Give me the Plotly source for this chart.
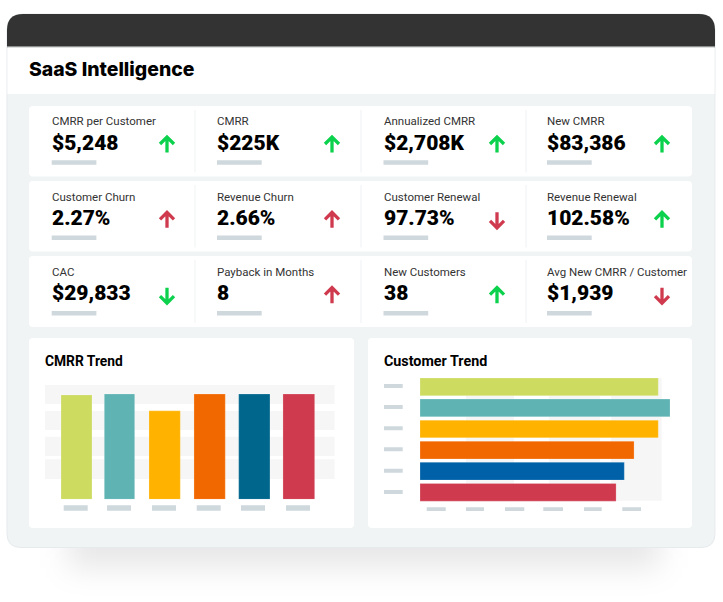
import base64
import plotly.graph_objects as go

W, H = 723, 602

# ---- data ----
kpi_labels = ["CMRR per Customer", "CMRR", "Annualized CMRR", "New CMRR",
              "Customer Churn", "Revenue Churn", "Customer Renewal", "Revenue Renewal",
              "CAC", "Payback in Months", "New Customers", "Avg New CMRR / Customer"]
kpi_values = ["$5,248", "$225K", "$2,708K", "$83,386",
              "2.27%", "2.66%", "97.73%", "102.58%",
              "$29,833", "8", "38", "$1,939"]
kpi_up = [True, True, True, True, True, True, False, True, False, True, True, False]
kpi_good = [True, True, True, True, False, False, False, True, True, False, True, False]

cmrr_periods = ["P1", "P2", "P3", "P4", "P5", "P6"]
cmrr_values = [223, 225, 189, 225, 225, 225]
customer_periods = ["P1", "P2", "P3", "P4", "P5", "P6"]
customer_values = [61.0, 64.0, 61.0, 54.8, 52.3, 50.2]

# ---- style ----
LIME, TEAL, AMBER, ORANGE, NAVY, RED, BLUE = "#CDDC60", "#5FB3B3", "#FFB300", "#F26800", "#00668C", "#CF3A4E", "#0061A8"
GREEN = "#0BD14C"
BG = "#F0F4F5"
PH = "#CFD8DC"
BAND = "#F6F6F6"
cmrr_colors = [LIME, TEAL, AMBER, ORANGE, NAVY, RED]
customer_colors = [LIME, TEAL, AMBER, ORANGE, BLUE, RED]
edge = "rgba(255,255,255,0.35)"
STEP = 44.46
cmrr_offset = [o / STEP for o in (-15.5, -16.66, -16.42, -15.88, -15.64, -15.8)]
cmrr_width = [w / STEP for w in (31, 30.4, 31.3, 31.3, 31.3, 31.7)]


def px(x):
    return x / W


def py(y):
    return 1 - y / H


def rrect(x0, y0, x1, y1, tl=0, tr=0, br=0, bl=0):
    def p(x, y):
        return f"{px(x):.5f},{py(y):.5f}"
    d = f"M{p(x0 + tl, y0)} L{p(x1 - tr, y0)} Q{p(x1, y0)} {p(x1, y0 + tr)} "
    d += f"L{p(x1, y1 - br)} Q{p(x1, y1)} {p(x1 - br, y1)} "
    d += f"L{p(x0 + bl, y1)} Q{p(x0, y1)} {p(x0, y1 - bl)} "
    d += f"L{p(x0, y0 + tl)} Q{p(x0, y0)} {p(x0 + tl, y0)} Z"
    return d


shapes = []


def box(x0, y0, x1, y1, fill, r=0, line=None, top=None, bottom=None):
    t = r if top is None else top
    b = r if bottom is None else bottom
    shapes.append(dict(type="path", xref="paper", yref="paper", layer="below",
                       path=rrect(x0, y0, x1, y1, t, t, b, b), fillcolor=fill,
                       line=dict(width=1 if line else 0, color=line or fill)))


# outer card
box(7, 14, 715, 547.5, BG, top=16, bottom=14, line="#E6EAEC")
box(7, 14, 715, 46.5, "#333333", top=16, bottom=0)
box(7, 46.5, 715, 47.5, "#8A8A8A")
box(7.5, 47.5, 714.5, 94, "#FFFFFF")

# KPI rows
rows_top = [106, 181, 256]
rows_bot = [176.5, 251.5, 327]
col_text = [51.7, 217, 383.5, 547]
col_arrow = [167, 332, 497, 662]
separators = [195, 361, 526]
row_off = [0, 75.3, 150.7]
for t, b in zip(rows_top, rows_bot):
    box(29, t, 692, b, "#FFFFFF", r=4)
    for s in separators:
        box(s - 0.5, t + 4, s + 0.5, b - 4, "#F0F2F3")

annotations = []
TEXT_SHIFT = -2


def label(x, y, text, size, family, color="#000000", weight=400):
    annotations.append(dict(xref="paper", yref="paper", x=px(x + TEXT_SHIFT), y=py(y), text=text,
                            showarrow=False, xanchor="left", yanchor="middle",
                            font=dict(size=size, family=family, color=color, weight=weight)))


label(28.5, 69, "SaaS Intelligence", 19.4, "Inter", weight=800)

for i, (lab, val, up, good) in enumerate(zip(kpi_labels, kpi_values, kpi_up, kpi_good)):
    r, c = divmod(i, 4)
    dy = row_off[r]
    x = col_text[c]
    label(x, 121.5 + dy, lab, 11.5, "Roboto", color="#333333")
    label(x, 142.5 + dy, val, 21, "Roboto", weight=900)
    box(x, 160.3 + dy, x + 44.7, 164.8 + dy, PH)
    ax = col_arrow[c]
    top, bot = 137 + dy, 152.5 + dy
    color = GREEN if good else RED
    if up:
        tip, tail, head = top, bot, top + 7
    else:
        tip, tail, head = bot, top, bot - 7
    d = (f"M{px(ax):.5f},{py(tail):.5f} L{px(ax):.5f},{py(tip):.5f} "
         f"M{px(ax - 7):.5f},{py(head):.5f} L{px(ax):.5f},{py(tip):.5f} L{px(ax + 7):.5f},{py(head):.5f}")
    shapes.append(dict(type="path", xref="paper", yref="paper", layer="below", path=d,
                       line=dict(color=color, width=3.3)))

# bottom cards
box(29, 338, 354, 528, "#FFFFFF", r=4)
box(368, 338, 692, 528, "#FFFFFF", r=4)
label(45, 361, "CMRR Trend", 13.8, "Roboto", weight=700)
label(384, 361, "Customer Trend", 14.3, "Roboto", weight=700)

# left chart bands and placeholder ticks
for a, b in [(385, 404), (411, 430), (436.7, 456), (459.3, 479)]:
    box(45, a, 334.5, b, BAND)
for a in [63.7, 107, 152, 196.7, 241, 286]:
    box(a, 505.3, a + 24, 510.7, PH)

# right chart background columns and placeholders
for a, b in [(466, 514), (549, 600), (611, 661.7)]:
    box(a, 378, b, 500.7, BAND)
for c in [386, 407, 428.3, 449.3, 470.7, 492]:
    box(384, c - 2, 402.7, c + 2, PH)
for a, b in [(426.7, 445.7), (466, 484), (505, 524.3), (543.3, 563), (584, 601.7), (622.3, 641)]:
    box(a, 507.3, b, 511, PH)

fig = go.Figure()
fig.add_trace(go.Bar(x=cmrr_periods, y=cmrr_values, marker=dict(color=cmrr_colors, line=dict(width=0.6, color=edge)),
                     width=cmrr_width, offset=cmrr_offset, xaxis="x", yaxis="y", showlegend=False, hoverinfo="skip"))
fig.add_trace(go.Bar(y=customer_periods, x=customer_values, orientation="h",
                     marker=dict(color=customer_colors, line=dict(width=0.6, color=edge)),
                     width=0.84, xaxis="x2", yaxis="y2", showlegend=False, hoverinfo="skip"))

# soft shadow under the card
svg = ('<svg xmlns="http://www.w3.org/2000/svg" width="723" height="602" viewBox="0 0 723 602">'
       '<defs><filter id="b" x="-20%" y="-50%" width="140%" height="200%"><feGaussianBlur stdDeviation="15"/></filter></defs>'
       '<rect x="68" y="500" width="592" height="68" fill="#000" fill-opacity="0.095" filter="url(#b)"/></svg>')
shadow = "data:image/svg+xml;base64," + base64.b64encode(svg.encode()).decode()

fig.update_layout(
    width=W, height=H, margin=dict(l=0, r=0, t=0, b=0, pad=0), autosize=False,
    paper_bgcolor="#FFFFFF", plot_bgcolor="rgba(0,0,0,0)", shapes=shapes, annotations=annotations,
    images=[dict(source=shadow, xref="paper", yref="paper", x=0, y=1, sizex=1, sizey=1,
                 sizing="stretch", xanchor="left", yanchor="top", layer="below")],
    xaxis=dict(domain=[px(54.27), px(321)], visible=False, fixedrange=True, type="category", range=[-0.5, 5.5]),
    yaxis=dict(domain=[py(499.3), py(385)], visible=False, fixedrange=True, range=[0, 244.2]),
    xaxis2=dict(domain=[px(420), px(670)], visible=False, fixedrange=True, range=[0, 64], anchor="y2"),
    yaxis2=dict(domain=[py(502.85), py(376.25)], visible=False, fixedrange=True, type="category",
                autorange=False, range=[5.5, -0.5], anchor="x2"),
)

fig.write_html("out.html", config=dict(displayModeBar=False, staticPlot=True),
               post_script="document.body.style.margin='0';document.body.style.overflow='hidden';document.documentElement.style.overflow='hidden';")
